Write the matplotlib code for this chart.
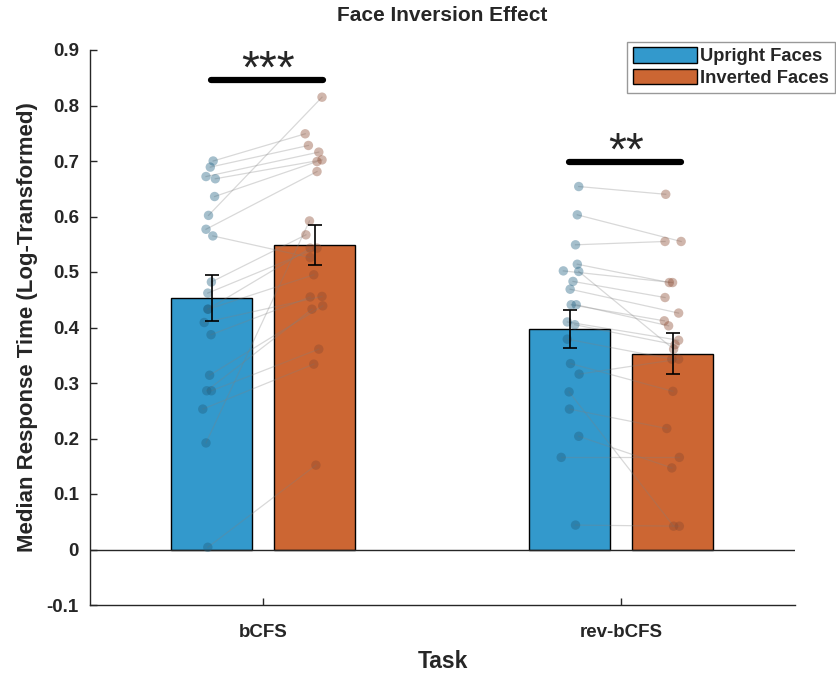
import matplotlib
matplotlib.use('Agg')
import matplotlib.pyplot as plt
import numpy as np
from matplotlib.patches import Patch

plt.rcParams['font.family'] = ['Liberation Sans', 'DejaVu Sans']

tasks = ['bCFS', 'rev-bCFS']
conditions = ['Upright Faces', 'Inverted Faces']

# bar heights and standard errors
means_upright = [0.453, 0.397]
means_inverted = [0.549, 0.353]
sem_upright = [0.042, 0.034]
sem_inverted = [0.036, 0.037]

# per participant values (paired: same index = same participant)
bcfs_upright = [0.700, 0.689, 0.672, 0.668, 0.636, 0.602, 0.577, 0.565, 0.482, 0.462,
                0.433, 0.433, 0.409, 0.387, 0.314, 0.286, 0.286, 0.253, 0.192, 0.004]
bcfs_inverted = [0.749, 0.728, 0.716, 0.702, 0.699, 0.815, 0.681, 0.526, 0.567, 0.543,
                 0.543, 0.495, 0.456, 0.455, 0.439, 0.433, 0.361, 0.334, 0.592, 0.152]
rev_upright = [0.654, 0.603, 0.549, 0.514, 0.502, 0.501, 0.483, 0.469, 0.441, 0.441,
               0.410, 0.405, 0.379, 0.335, 0.316, 0.284, 0.253, 0.204, 0.166, 0.044]
rev_inverted = [0.640, 0.555, 0.555, 0.481, 0.481, 0.361, 0.454, 0.426, 0.412, 0.403,
                0.377, 0.369, 0.343, 0.285, 0.343, 0.042, 0.218, 0.147, 0.166, 0.042]

# horizontal jitter of each dot
bcfs_up_jit = [0.004, -0.004, -0.016, 0.010, 0.008, -0.009, -0.016, 0.003, -0.001, -0.011,
               -0.011, -0.010, -0.021, -0.002, -0.006, -0.014, -0.001, -0.025, -0.016, -0.011]
bcfs_inv_jit = [-0.027, -0.018, 0.011, 0.020, 0.006, 0.020, 0.006, -0.013, -0.025, 0.006,
                -0.013, -0.003, 0.020, -0.013, 0.022, -0.008, 0.011, -0.003, -0.015, 0.003]
rev_up_jit = [0.025, 0.021, 0.016, 0.021, -0.018, 0.025, 0.009, 0.001, 0.004, 0.018,
              -0.007, 0.014, -0.007, 0.002, 0.026, -0.002, -0.001, 0.025, -0.024, 0.016]
rev_inv_jit = [-0.020, 0.023, -0.022, -0.010, -0.001, 0.002, -0.022, 0.016, -0.024, -0.012,
               0.016, 0.006, -0.003, 0.000, 0.016, 0.002, -0.017, -0.003, 0.018, 0.018]

sig_labels = ['***', '**']
sig_heights = [0.846, 0.698]

blue = '#3399CC'
orange = '#CC6633'
dark = '#262626'

fig = plt.figure(figsize=(8.36, 6.74), dpi=100)
ax = fig.add_axes([90/836, 69/674, 705/836, 555/674])

x = np.array([1, 2])
w = 0.226
off = 0.144

ax.bar(x - off, means_upright, w, color=blue, edgecolor='black', linewidth=1, zorder=2)
ax.bar(x + off, means_inverted, w, color=orange, edgecolor='black', linewidth=1, zorder=2)
ax.axhline(0, color=dark, lw=1, zorder=3)

groups = [(bcfs_upright, bcfs_inverted, bcfs_up_jit, bcfs_inv_jit),
          (rev_upright, rev_inverted, rev_up_jit, rev_inv_jit)]
for g, (up, inv, ju, ji) in enumerate(groups):
    xu = x[g] - off + np.array(ju)
    xi = x[g] + off + np.array(ji)
    for k in range(len(up)):
        ax.plot([xu[k], xi[k]], [up[k], inv[k]], color='#808080', alpha=0.3, lw=0.9, zorder=4)
    ax.scatter(xu, up, s=46, color='#1F5F80', alpha=0.4, edgecolors='none', zorder=5)
    ax.scatter(xi, inv, s=46, color='#8B4A30', alpha=0.4, edgecolors='none', zorder=5)

ax.errorbar(x - off, means_upright, yerr=sem_upright, fmt='none', ecolor='black',
            elinewidth=1.2, capsize=5, capthick=1.2, zorder=6)
ax.errorbar(x + off, means_inverted, yerr=sem_inverted, fmt='none', ecolor='black',
            elinewidth=1.2, capsize=5, capthick=1.2, zorder=6)

for g in range(2):
    ax.plot([x[g] - off - 0.002, x[g] + off + 0.022], [sig_heights[g]] * 2, color='black',
            lw=4.5, solid_capstyle='round', zorder=7)
    ax.text(x[g] + 0.012, sig_heights[g] - 0.004, sig_labels[g], ha='center', va='baseline',
            fontsize=33, color=dark, zorder=7)

ax.set_xlim(0.516, 2.485)
ax.set_ylim(-0.1, 0.9)
ax.set_xticks(x)
ax.set_xticklabels(tasks)
yt = np.round(np.arange(-0.1, 0.91, 0.1), 1)
ax.set_yticks(yt)
ax.set_yticklabels(['%g' % v for v in yt])

for lab in ax.get_xticklabels() + ax.get_yticklabels():
    lab.set_fontweight('bold')
    lab.set_fontsize(13.5)
    lab.set_color(dark)

ax.tick_params(direction='in', length=5, width=1, color=dark, pad=8)
ax.tick_params(axis='x', pad=14)
for s in ['top', 'right']:
    ax.spines[s].set_visible(False)
for s in ['left', 'bottom']:
    ax.spines[s].set_color(dark)
    ax.spines[s].set_linewidth(1)

ax.set_xlabel('Task', fontsize=16.5, fontweight='bold', color=dark, labelpad=6)
ax.set_ylabel('Median Response Time (Log-Transformed)', fontsize=16, fontweight='bold',
              color=dark, labelpad=6)
ax.set_title('Face Inversion Effect', fontsize=15, fontweight='bold', color=dark, pad=21)

handles = [Patch(facecolor=blue, edgecolor='black', linewidth=1),
           Patch(facecolor=orange, edgecolor='black', linewidth=1)]
leg = fig.legend(handles, conditions, loc='upper left', bbox_to_anchor=(627/836, 1 - 42/674),
                 prop={'weight': 'bold', 'size': 13.2}, frameon=True, fancybox=False,
                 handlelength=3.5, handleheight=0.9, handletextpad=0.2, borderpad=0.3,
                 labelspacing=0.2, borderaxespad=0)
leg.get_frame().set_edgecolor('#808080')
leg.get_frame().set_linewidth(1)
for t in leg.get_texts():
    t.set_color(dark)

fig.savefig('out.png', dpi=100)
